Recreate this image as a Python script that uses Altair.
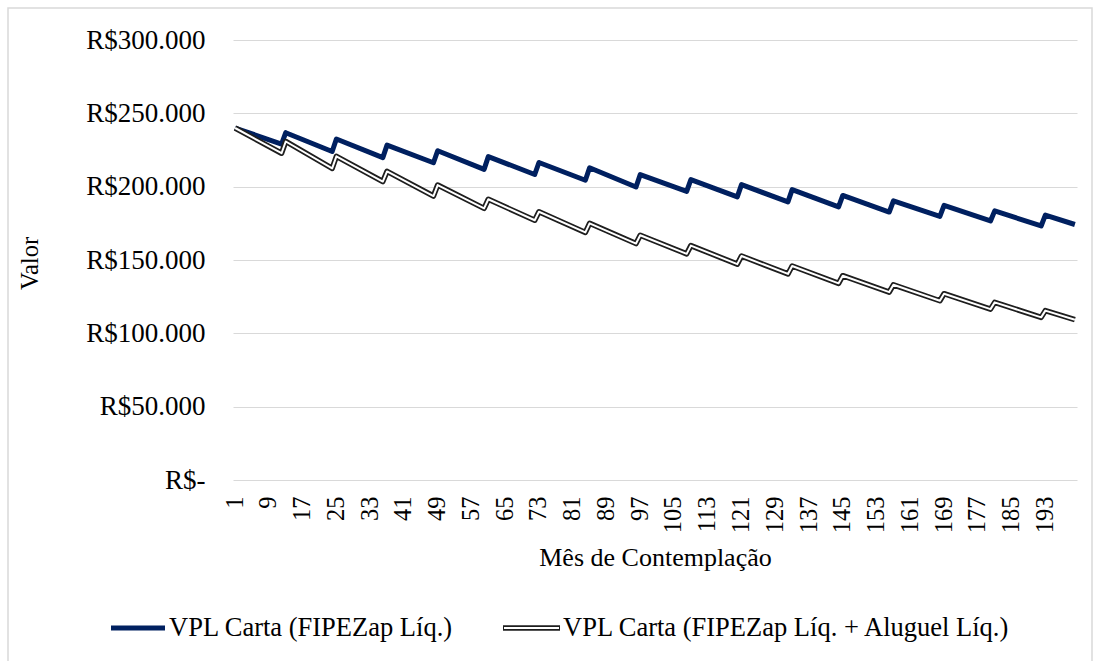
import altair as alt
import pandas as pd

# Vertex months (trough before each annual jump, peak after it)
months = [1, 12, 13, 24, 25, 36, 37, 48, 49, 60, 61, 72, 73, 84, 85, 96, 97,
          108, 109, 120, 121, 132, 133, 144, 145, 156, 157, 168, 169, 180, 181,
          192, 193, 200]

vpl_fipezap = [240000, 229000, 236800, 224000, 232500, 219800, 228300, 216300,
               224500, 211800, 220500, 208300, 216500, 204400, 212900, 199800,
               208200, 196800, 204800, 193000, 201400, 189600, 198000, 186200,
               194000, 182700, 190300, 179700, 187300, 176600, 183500, 173200,
               180600, 174200]

vpl_fipezap_aluguel = [240000, 222800, 230800, 212500, 220700, 203500, 210400,
                       193600, 201100, 185200, 191400, 177100, 182900, 168800,
                       175000, 161200, 166900, 154200, 159800, 147200, 152700,
                       140500, 145900, 134100, 139300, 128100, 133100, 122200,
                       127000, 116500, 121100, 110900, 115500, 109300]

series_names = ["VPL Carta (FIPEZap Líq.)",
                "VPL Carta (FIPEZap Líq. + Aluguel Líq.)"]

x_tick_values = list(range(1, 194, 8))
y_tick_values = [0, 50000, 100000, 150000, 200000, 250000, 300000]

n = len(months)
df = pd.DataFrame({
    "mes": months + months,
    "valor": vpl_fipezap + vpl_fipezap_aluguel,
    "serie": [series_names[0]] * n + [series_names[1]] * n,
})

FONT = "Liberation Serif"
NAVY = "#002060"
DARK = "#1e1e1e"
GRID = "#d9d9d9"

x_enc = alt.X(
    "mes:Q",
    scale=alt.Scale(domain=[0.5, 200.5], nice=False, zero=False),
    axis=alt.Axis(
        values=x_tick_values, labelAngle=-90, labelAlign="right",
        labelBaseline="middle", labelFont=FONT, labelFontSize=24.5,
        labelColor="#000000", ticks=False, tickSize=0, domain=False,
        grid=False, labelPadding=16, labelOverlap=False, labelFlush=False,
        title="Mês de Contemplação", titleFont=FONT, titleFontSize=26,
        titleFontWeight="normal", titleColor="#000000", titleY=85,
        titleBaseline="alphabetic",
    ),
)
y_enc = alt.Y(
    "valor:Q",
    scale=alt.Scale(domain=[0, 300000], nice=False),
    axis=alt.Axis(
        values=y_tick_values,
        labelExpr="datum.value == 0 ? 'R$-' : 'R$' + replace(format(datum.value, ',.0f'), ',', '.')",
        labelFont=FONT, labelFontSize=27, labelColor="#000000",
        ticks=False, tickSize=0, domain=False, grid=True, gridColor=GRID,
        gridWidth=1, labelPadding=28,
        title="Valor", titleAngle=-90, titleX=-203, titleY=223,
        titleAlign="center", titleBaseline="middle", titleFont=FONT,
        titleFontSize=24.5, titleFontWeight="normal", titleColor="#000000",
    ),
)

base = alt.Chart(df).encode(x=x_enc, y=y_enc)

navy_line = base.transform_filter(
    alt.datum.serie == series_names[0]
).mark_line(color=NAVY, strokeWidth=5, strokeJoin="round")

gray_outer = base.transform_filter(
    alt.datum.serie == series_names[1]
).mark_line(color=DARK, strokeWidth=5.5, strokeJoin="round")

gray_inner = base.transform_filter(
    alt.datum.serie == series_names[1]
).mark_line(color="#ffffff", strokeWidth=2, strokeJoin="round")

# Manual legend (double-line symbol for the second series)
one = pd.DataFrame({"k": [0]})
leg_y = 588
leg1_line = alt.Chart(one).mark_rule(color=NAVY, strokeWidth=5).encode(
    x=alt.value(-122), x2=alt.value(-68), y=alt.value(leg_y))
leg1_text = alt.Chart(pd.DataFrame({"t": [series_names[0]]})).mark_text(
    align="left", baseline="middle", font=FONT, fontSize=26.5, color="#000000"
).encode(text="t:N", x=alt.value(-64), y=alt.value(leg_y))
leg2_outer = alt.Chart(one).mark_rule(color=DARK, strokeWidth=5.5).encode(
    x=alt.value(270), x2=alt.value(327), y=alt.value(leg_y))
leg2_inner = alt.Chart(one).mark_rule(color="#ffffff", strokeWidth=2).encode(
    x=alt.value(271), x2=alt.value(326), y=alt.value(leg_y))
leg2_text = alt.Chart(pd.DataFrame({"t": [series_names[1]]})).mark_text(
    align="left", baseline="middle", font=FONT, fontSize=26.5, color="#000000"
).encode(text="t:N", x=alt.value(330), y=alt.value(leg_y))

frame = alt.Chart(one).mark_rect(filled=False, stroke=GRID, strokeWidth=1.5).encode(
    x=alt.value(-225), x2=alt.value(859), y=alt.value(-32), y2=alt.value(640))

chart = alt.layer(
    frame, navy_line, gray_outer, gray_inner,
    leg1_line, leg1_text, leg2_outer, leg2_inner, leg2_text,
).properties(
    width=844, height=440,
    autosize=alt.AutoSizeParams(type="none"),
    padding={"left": 233, "top": 40, "right": 21, "bottom": 181},
    background="#ffffff",
).configure_view(stroke=None)

chart.save("out.html", embed_options={"renderer": "svg", "actions": False})
